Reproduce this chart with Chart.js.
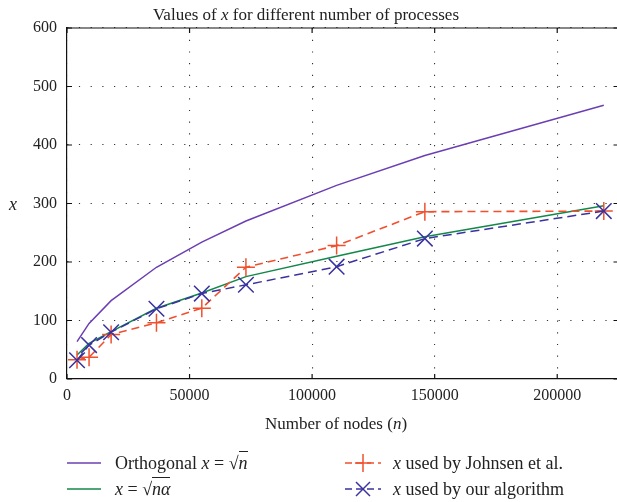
<!DOCTYPE html>
<html>
<head>
<meta charset="utf-8">
<script src="https://cdn.jsdelivr.net/npm/chart.js@4.4.1/dist/chart.umd.min.js"></script>
<style>
  html, body { margin: 0; padding: 0; background: #fff; overflow: hidden; }
  #wrap { position: relative; width: 617px; height: 502px; overflow: hidden;
          font-family: "Liberation Serif", "DejaVu Serif", serif; color: #222; }
  #chartBox { position: absolute; left: 0; top: 0; width: 631px; height: 502px; }
  .lbl { position: absolute; white-space: nowrap; line-height: 1; transform: translate(-50%, -50%); }
  .leg { position: absolute; white-space: nowrap; line-height: 1; font-size: 18px; transform: translateY(-50%); }
  .sym { position: absolute; transform: translateY(-50%); }
  .rad { border-top: 1px solid #222; padding-top: 1px; }
</style>
</head>
<body>
<div id="wrap">
  <div id="chartBox"><canvas id="chart"></canvas></div>

  <div class="lbl" style="left:306px; top:14px; font-size:17px;">Values of <i>x</i> for different number of processes</div>
  <div class="lbl" style="left:13px; top:204px; font-size:18px;"><i>x</i></div>
  <div class="lbl" style="left:336px; top:423px; font-size:17px;">Number of nodes (<i>n</i>)</div>

  <!-- legend -->
  <svg class="sym" style="left:66px; top:463px;" width="36" height="20"><line x1="1" y1="10" x2="35" y2="10" stroke="#6b3fb3" stroke-width="1.5"/></svg>
  <div class="leg" style="left:115px; top:463px;">Orthogonal <i>x</i> = √<span class="rad"><i>n</i></span></div>
  <svg class="sym" style="left:66px; top:489px;" width="36" height="20"><line x1="1" y1="10" x2="35" y2="10" stroke="#13884a" stroke-width="1.5"/></svg>
  <div class="leg" style="left:115px; top:489px;"><i>x</i> = √<span class="rad"><i>nα</i></span></div>

  <svg class="sym" style="left:344px; top:463px;" width="38" height="22">
    <line x1="1" y1="11" x2="37" y2="11" stroke="#f0502e" stroke-width="1.5" stroke-dasharray="7,4"/>
    <line x1="19" y1="2" x2="19" y2="20" stroke="#f0502e" stroke-width="1.5"/>
    <line x1="11" y1="11" x2="27" y2="11" stroke="#f0502e" stroke-width="1.5"/>
  </svg>
  <div class="leg" style="left:393px; top:463px;"><i>x</i> used by Johnsen et al.</div>
  <svg class="sym" style="left:344px; top:489px;" width="38" height="22">
    <line x1="1" y1="11" x2="37" y2="11" stroke="#3a32a0" stroke-width="1.5" stroke-dasharray="7,4"/>
    <line x1="12" y1="4" x2="26" y2="18" stroke="#3a32a0" stroke-width="1.5"/>
    <line x1="12" y1="18" x2="26" y2="4" stroke="#3a32a0" stroke-width="1.5"/>
  </svg>
  <div class="leg" style="left:393px; top:489px;"><i>x</i> used by our algorithm</div>
</div>

<script>
// Data
const nodes       = [4096, 9000, 18000, 36500, 55000, 73000, 110000, 146000, 219000];
const orthogonal  = [64, 95, 134, 191, 234, 270, 331, 382, 468];
const sqrtNAlpha  = [41, 61, 81, 121, 147, 175, 210, 243, 296];
const johnsen     = [33, 37, 76, 96, 121, 191, 228, 286, 287];
const ourAlgo     = [32, 58, 80, 120, 146, 161, 192, 240, 287];

const xTicks = [0, 50000, 100000, 150000, 200000];
const yTicks = [0, 100, 200, 300, 400, 500, 600];

const toPoints = ys => nodes.map((n, i) => ({ x: n, y: ys[i] }));

const tickFont = { family: '"Liberation Serif", "DejaVu Serif", serif', size: 16 };

// Frame on top/right and small inward ticks, as in the original plot
const framePlugin = {
  id: 'frame',
  afterDraw(chart) {
    const { ctx, chartArea: a, scales } = chart;
    ctx.save();
    ctx.strokeStyle = '#111';
    ctx.lineWidth = 1.2;
    ctx.beginPath();
    ctx.moveTo(a.left, a.top); ctx.lineTo(a.right, a.top); ctx.lineTo(a.right, a.bottom);
    ctx.stroke();
    ctx.beginPath();
    scales.x.ticks.forEach(t => {
      const px = scales.x.getPixelForValue(t.value);
      ctx.moveTo(px, a.bottom); ctx.lineTo(px, a.bottom - 5);
      ctx.moveTo(px, a.top); ctx.lineTo(px, a.top + 5);
    });
    scales.y.ticks.forEach(t => {
      const py = scales.y.getPixelForValue(t.value);
      ctx.moveTo(a.left, py); ctx.lineTo(a.left + 5, py);
      ctx.moveTo(a.right, py); ctx.lineTo(a.right - 5, py);
    });
    ctx.stroke();
    ctx.restore();
  }
};

new Chart(document.getElementById('chart'), {
  type: 'line',
  data: {
    datasets: [
      {
        label: 'x used by our algorithm',
        data: toPoints(ourAlgo),
        borderColor: '#3a32a0',
        borderWidth: 1.5,
        borderDash: [9, 5],
        pointStyle: 'crossRot',
        pointRadius: 11,
        pointBorderWidth: 1.5,
        pointBorderColor: '#3a32a0',
        fill: false,
      },
      {
        label: 'x used by Johnsen et al.',
        data: toPoints(johnsen),
        borderColor: '#f0502e',
        borderWidth: 1.6,
        borderDash: [8, 5],
        pointStyle: 'cross',
        pointRadius: 9,
        pointBorderWidth: 1.5,
        pointBorderColor: '#f0502e',
        fill: false,
      },
      {
        label: 'x = sqrt(n alpha)',
        data: toPoints(sqrtNAlpha),
        borderColor: '#13884a',
        borderWidth: 1.5,
        pointRadius: 0,
        fill: false,
      },
      {
        label: 'Orthogonal x = sqrt(n)',
        data: toPoints(orthogonal),
        borderColor: '#6b3fb3',
        borderWidth: 1.5,
        pointRadius: 0,
        fill: false,
      },
    ]
  },
  options: {
    responsive: true,
    maintainAspectRatio: false,
    animation: false,
    layout: { padding: { top: 28, right: 2, bottom: 0, left: 0 } },
    scales: {
      x: {
        type: 'linear',
        min: 0, max: 225000,
        afterFit: s => { s.height = 123; },
        afterBuildTicks: s => { s.ticks = xTicks.map(v => ({ value: v })); },
        ticks: { color: '#222', font: tickFont, padding: 7, maxRotation: 0, callback: v => String(v) },
        grid: { color: '#333', lineWidth: 1.1, drawTicks: false },
        border: { color: '#111', width: 1.2, dash: [1.2, 10.5] },
      },
      y: {
        min: 0, max: 600,
        afterFit: s => { s.width = 67; },
        afterBuildTicks: s => { s.ticks = yTicks.map(v => ({ value: v })); },
        ticks: { color: '#222', font: tickFont, padding: 10 },
        grid: { color: '#333', lineWidth: 1.1, drawTicks: false },
        border: { color: '#111', width: 1.2, dash: [1.2, 10.5] },
      }
    },
    plugins: { legend: { display: false }, tooltip: { enabled: false } },
  },
  plugins: [framePlugin]
});
</script>
</body>
</html>
